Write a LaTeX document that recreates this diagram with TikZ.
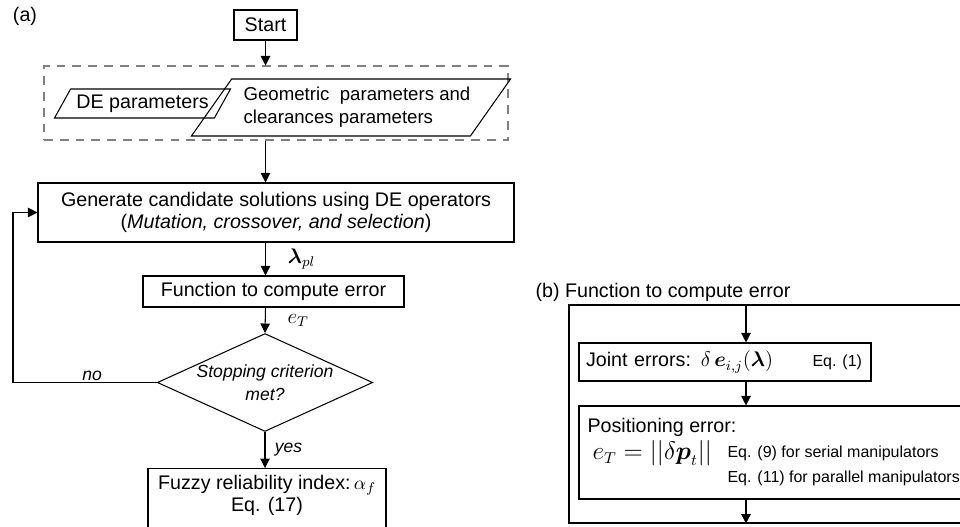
\documentclass[tikz,border=0pt]{standalone}
\usepackage{amsmath}
\usepackage{fontspec}
\setmainfont{Liberation Sans}
\usetikzlibrary{
  shapes.geometric,
  arrows.meta,
  positioning
}

\begin{document}
\begin{tikzpicture}[
  x=0.2mm, y=-0.2mm,
  font=\fontsize{11.2}{12.6}\selectfont,
  line width=0.6pt,
  process/.style={
    draw, rectangle,
    inner sep=0pt,
    align=center
  },
  dataio/.style={
    draw, trapezium,
    trapezium stretches=true,
    inner sep=0pt,
    align=left
  },
  decision/.style={
    draw, diamond,
    aspect=2.2,
    inner sep=0pt,
    align=center,
    font=\itshape
  },
  arrow/.style={
    -{Triangle[length=5.4pt, width=5.4pt]}},
  lbl/.style={
    font=\itshape, inner sep=1pt},
  note/.style={
    font=\fontsize{9.1}{11}\selectfont,
    inner sep=0pt}
]
\useasboundingbox (0,0) rectangle (960,526);
\clip (0,0) rectangle (960,526);

% (a) main loop
\node[inner sep=0pt] (lbla) at (25,16) {(a)};

\node[process, minimum width=12.6mm, minimum height=6mm]
  (start) at (265.5,25) {Start};

\node[process, draw=gray, dash pattern=on 5pt off 4pt,
  minimum width=92.8mm, minimum height=14.8mm]
  (inbox) at (276,103) {};
\node[dataio, trapezium left angle=50, trapezium right angle=130,
  minimum width=35.4mm, minimum height=5.8mm]
  (depar) at (142.5,103.5) {DE parameters};
\node[dataio, trapezium left angle=45, trapezium right angle=135,
  minimum width=62.4mm, minimum height=11.4mm,
  font=\fontsize{10.6}{13}\selectfont]
  (geopar) at (351,107.5)
  {\hspace*{2.4mm}Geometric~~parameters and\\
   \hspace*{2.4mm}clearances parameters};

\node[process, minimum width=95.2mm, minimum height=11.8mm]
  (gen) at (276,212.5)
  {Generate candidate solutions using DE operators\\
   (\textit{Mutation, crossover, and selection})};
\node[process, minimum width=52.2mm, minimum height=6.2mm]
  (func) at (273.5,291.5) {Function to compute error};
\node[decision, minimum width=42.8mm, minimum height=19.4mm]
  (stop) at (265,382.5) {Stopping criterion\\[1pt]met?};
\node[process, anchor=north, minimum width=47.6mm, inner ysep=1.4mm]
  (fuzzy) at (267,468)
  {Fuzzy reliability index:\,$\alpha_f$\\Eq. (17)\\\mbox{}};

\coordinate (loop) at (13,382.5);

\draw[arrow] (start) -- (start |- inbox.north);
\draw[arrow] (inbox.south -| start) -- (gen.north -| start);
\draw[arrow] (gen.south -| start) --
  node[right=3.2mm] {\large$\boldsymbol{\lambda}_{pl}$}
  (func.north -| start);
\draw[arrow] (func.south -| start) --
  node[right=3.2mm] {\large$e_T$} (stop.north);
\draw[arrow] (stop.south) --
  node[lbl, right=1.5mm] {yes} (fuzzy.north -| stop);
\draw[arrow] (stop.west) --
  node[lbl, above, pos=0.45] {no} (loop) |- (gen.west);

% (b) error function
\node[anchor=west, inner sep=0pt] (lblb) at (535,292)
  {(b) Function to compute error};
\node[process, minimum width=86.2mm, minimum height=43.6mm]
  (fcn) at (784.5,414) {};
\coordinate (bcol) at (746,0);

\node[process, minimum width=58.4mm, minimum height=7.6mm,
  text width=55.6mm, align=left]
  (joint) at (725,362)
  {Joint errors: {\large$\delta\,\boldsymbol{e}_{i,j}(\boldsymbol{\lambda})$}};
\node[note, anchor=east] (eqjoint) at ([xshift=-1.8mm]joint.east)
  {Eq. (1)};
\node[process, minimum width=84.2mm, minimum height=18.6mm]
  (pos) at (789.5,452.5) {};
\node[anchor=west, inner sep=0pt] (postxt) at (587,427)
  {Positioning error:};
\node[anchor=west, inner sep=0pt] (poseq) at (592,453)
  {\fontsize{13.4}{16}\selectfont$e_T = ||\delta\boldsymbol{p}_t||$};
\node[note, anchor=west] (eqser) at (727,453)
  {Eq. (9) for serial manipulators};
\node[note, anchor=west] (eqpar) at (727,478)
  {Eq. (11) for parallel manipulators};

\draw[arrow] (fcn.north -| bcol) -- (joint.north -| bcol);
\draw[arrow] (joint.south -| bcol) -- (pos.north -| bcol);
\draw[arrow] (pos.south -| bcol) -- (fcn.south -| bcol);
\end{tikzpicture}
\end{document}
